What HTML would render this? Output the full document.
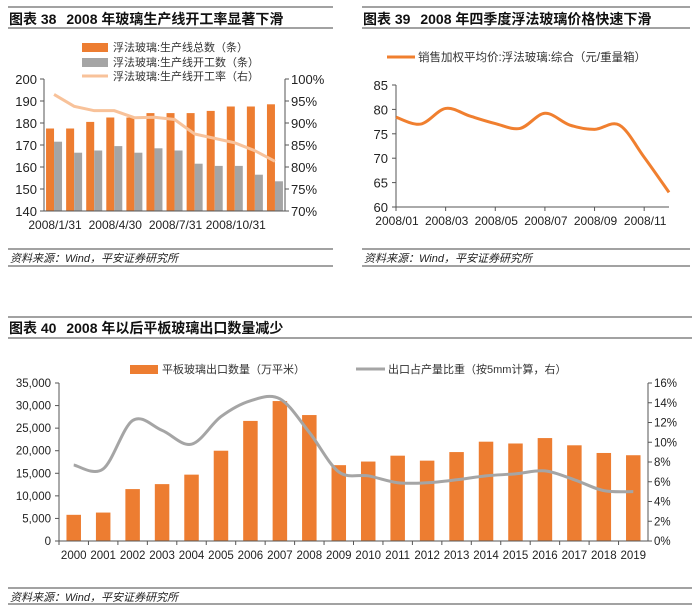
<!DOCTYPE html>
<html><head><meta charset="utf-8">
<style>
body{margin:0;background:#fff;width:700px;height:611px;overflow:hidden;font-family:"Liberation Sans","Noto Sans CJK SC",sans-serif;}
svg text{font-family:"Liberation Sans","Noto Sans CJK SC",sans-serif;}
</style></head>
<body>
<svg id="s" width="700" height="611" viewBox="0 0 700 611" xmlns="http://www.w3.org/2000/svg">
<!-- chart 38 header -->
<g>
<line x1="8" y1="7" x2="333" y2="7" stroke="#444" stroke-width="1"/>
<text x="9" y="24" font-size="14" font-weight="bold" fill="#111">图表 38 <tspan dx="6">2008 年玻璃生产线开工率显著下滑</tspan></text>
<line x1="8" y1="28" x2="333" y2="28" stroke="#444" stroke-width="1"/>
<line x1="8" y1="249" x2="333" y2="249" stroke="#444" stroke-width="1"/>
<text x="10" y="262" font-size="11" font-style="italic" fill="#222">资料来源：Wind，平安证券研究所</text>
<line x1="8" y1="266" x2="333" y2="266" stroke="#444" stroke-width="1"/>
</g>
<g>
<rect x="82" y="43" width="26" height="9" fill="#ed7d31"/>
<text x="113" y="51" font-size="11" fill="#333">浮法玻璃:生产线总数（条）</text>
<rect x="82" y="58" width="26" height="9" fill="#a5a5a5"/>
<text x="113" y="66" font-size="11" fill="#333">浮法玻璃:生产线开工数（条）</text>
<line x1="82" y1="76" x2="108" y2="76" stroke="#f8c29a" stroke-width="3"/>
<text x="113" y="80" font-size="11" fill="#333">浮法玻璃:生产线开工率（右）</text>
</g>
<g id="c38"></g>

<!-- chart 39 header -->
<g>
<line x1="362" y1="7" x2="690" y2="7" stroke="#444" stroke-width="1"/>
<text x="363" y="24" font-size="14" font-weight="bold" fill="#111">图表 39 <tspan dx="6">2008 年四季度浮法玻璃价格快速下滑</tspan></text>
<line x1="362" y1="28" x2="690" y2="28" stroke="#444" stroke-width="1"/>
<line x1="362" y1="249" x2="690" y2="249" stroke="#444" stroke-width="1"/>
<text x="364" y="262" font-size="11" font-style="italic" fill="#222">资料来源：Wind，平安证券研究所</text>
<line x1="362" y1="266" x2="690" y2="266" stroke="#444" stroke-width="1"/>
</g>
<g>
<line x1="387" y1="57" x2="415" y2="57" stroke="#f07f2f" stroke-width="3"/>
<text x="418" y="61" font-size="11.5" fill="#333">销售加权平均价:浮法玻璃:综合（元/重量箱）</text>
</g>
<g id="c39"></g>

<!-- chart 40 header -->
<g>
<line x1="8" y1="317" x2="692" y2="317" stroke="#444" stroke-width="1"/>
<text x="9" y="333" font-size="14" font-weight="bold" fill="#111">图表 40 <tspan dx="6">2008 年以后平板玻璃出口数量减少</tspan></text>
<line x1="8" y1="338" x2="692" y2="338" stroke="#444" stroke-width="1"/>
<line x1="8" y1="588" x2="692" y2="588" stroke="#444" stroke-width="1"/>
<text x="10" y="601" font-size="11" font-style="italic" fill="#222">资料来源：Wind，平安证券研究所</text>
<line x1="8" y1="604" x2="692" y2="604" stroke="#444" stroke-width="1"/>
</g>
<g>
<rect x="130" y="365" width="28" height="9" fill="#ed7d31"/>
<text x="162" y="373" font-size="11" fill="#333">平板玻璃出口数量（万平米）</text>
<line x1="356" y1="369" x2="385" y2="369" stroke="#a5a5a5" stroke-width="3"/>
<text x="388" y="373" font-size="11" fill="#333">出口占产量比重（按5mm计算，右）</text>
</g>
<g id="c40"></g>
</svg>
<script>
// chart 38 data
const c38Cats=["2008/1/31","2008/2/29","2008/3/31","2008/4/30","2008/5/31","2008/6/30","2008/7/31","2008/8/31","2008/9/30","2008/10/31","2008/11/30","2008/12/31"];
const c38Total=[177.5,177.5,180.5,182.5,182.5,184.5,184.5,184.5,185.5,187.5,187.5,188.5];
const c38Running=[171.5,166.5,167.5,169.5,166.5,168.5,167.5,161.5,160.5,160.5,156.5,153.5];
const c38Rate=[96.5,93.8,92.8,92.8,91.2,91.3,90.8,87.5,86.5,85.5,83.7,81.3];
const c38LeftTicks=[140,150,160,170,180,190,200];
const c38RightTicks=[70,75,80,85,90,95,100];
// chart 39 data
const c39Cats=["2008/01","2008/02","2008/03","2008/04","2008/05","2008/06","2008/07","2008/08","2008/09","2008/10","2008/11","2008/12"];
const c39Price=[78.4,77.0,80.2,78.6,77.1,76.1,79.2,76.8,75.9,76.8,70.2,63.0];
const c39Ticks=[60,65,70,75,80,85];
// chart 40 data
const c40Years=["2000","2001","2002","2003","2004","2005","2006","2007","2008","2009","2010","2011","2012","2013","2014","2015","2016","2017","2018","2019"];
const c40Export=[5800,6300,11500,12600,14700,20000,26600,31000,27900,16800,17600,18900,17800,19700,22000,21600,22800,21200,19500,19000];
const c40Share=[7.7,7.3,12.2,11.2,9.8,12.6,14.2,14.4,11.0,7.0,6.6,5.9,5.9,6.2,6.6,6.8,7.1,6.2,5.1,5.0];
const c40LeftTicks=[0,5000,10000,15000,20000,25000,30000,35000];
const c40RightTicks=[0,2,4,6,8,10,12,14,16];

const NS="http://www.w3.org/2000/svg";
function mk(p,tag,at){const e=document.createElementNS(NS,tag);for(const k in at)e.setAttribute(k,at[k]);p.appendChild(e);return e;}
function smooth(pts){let d="M"+pts[0][0]+","+pts[0][1];for(let i=0;i<pts.length-1;i++){const p0=pts[Math.max(0,i-1)],p1=pts[i],p2=pts[i+1],p3=pts[Math.min(pts.length-1,i+2)];const t=6;d+=" C"+(p1[0]+(p2[0]-p0[0])/t)+","+(p1[1]+(p2[1]-p0[1])/t)+" "+(p2[0]-(p3[0]-p1[0])/t)+","+(p2[1]-(p3[1]-p1[1])/t)+" "+p2[0]+","+p2[1];}return d;}
function fmt(n){return n.toString().replace(/\B(?=(\d{3})+(?!\d))/g,",");}

// ---- chart 38
(function(){
const g=document.getElementById('c38');
const L=44,R=285,T=79,B=211;
const bw=(R-L)/c38Cats.length;
const yl=v=>B-(v-140)/(200-140)*(B-T);
const yr=v=>B-(v-70)/(100-70)*(B-T);
const xc=i=>L+bw*(i+0.5);
c38LeftTicks.forEach(t=>{const e=mk(g,'text',{x:37,y:yl(t)+5,'font-size':13,'text-anchor':'end',fill:'#222'});e.textContent=t;


mk(g,'line',{x1:L-4,x2:L,y1:yl(t),y2:yl(t),stroke:'#555'});});
c38RightTicks.forEach(t=>{const e=mk(g,'text',{x:291,y:yr(t)+5,'font-size':13,fill:'#222'});e.textContent=t+'%';


mk(g,'line',{x1:R,x2:R+4,y1:yr(t),y2:yr(t),stroke:'#555'});});
c38Cats.forEach((c,i)=>{
const b1=mk(g,'rect',{x:xc(i)-8,y:yl(c38Total[i]),width:8,height:B-yl(c38Total[i]),fill:'#ed7d31'});


const b2=mk(g,'rect',{x:xc(i),y:yl(c38Running[i]),width:8,height:B-yl(c38Running[i]),fill:'#a5a5a5'});


if(i%3===0){const e=mk(g,'text',{x:xc(i)+1,y:229,'font-size':12,'text-anchor':'middle',fill:'#222'});e.textContent=c;

}
});
const ln=mk(g,'polyline',{points:c38Rate.map((v,i)=>xc(i)+','+yr(v)).join(' '),fill:'none',stroke:'#f8c29a','stroke-width':3});


mk(g,'line',{x1:L,x2:L,y1:T,y2:B,stroke:'#555'});
mk(g,'line',{x1:R,x2:R,y1:T,y2:B,stroke:'#555'});
mk(g,'line',{x1:L,x2:R,y1:B,y2:B,stroke:'#555'});
})();

// ---- chart 39
(function(){
const g=document.getElementById('c39');
const L=396,R=669,T=85,B=207;
const step=(R-L)/(c39Cats.length-1);
const x=i=>L+step*i;
const y=v=>B-(v-60)/(85-60)*(B-T);
c39Ticks.forEach(t=>{const e=mk(g,'text',{x:388,y:y(t)+5,'font-size':13,'text-anchor':'end',fill:'#222'});e.textContent=t;


mk(g,'line',{x1:L-4,x2:L,y1:y(t),y2:y(t),stroke:'#555'});});
c39Cats.forEach((c,i)=>{if(i%2===0){mk(g,'line',{x1:x(i),x2:x(i),y1:B,y2:B+4,stroke:'#555'});
const e=mk(g,'text',{x:x(i)+1,y:225,'font-size':12,'text-anchor':'middle',fill:'#222'});e.textContent=c;

}});
mk(g,'line',{x1:L,x2:L,y1:T,y2:B,stroke:'#555'});
mk(g,'line',{x1:L,x2:R,y1:B,y2:B,stroke:'#555'});
const p=mk(g,'path',{d:smooth(c39Price.map((v,i)=>[x(i),y(v)])),fill:'none',stroke:'#f07f2f','stroke-width':3});


})();

// ---- chart 40
(function(){
const g=document.getElementById('c40');
const L=59,R=648,T=383,B=541;
const bw=(R-L)/c40Years.length;
const xc=i=>L+bw*(i+0.5);
const yl=v=>B-v/35000*(B-T);
const yr=v=>B-v/16*(B-T);
c40LeftTicks.forEach(t=>{const e=mk(g,'text',{x:51,y:yl(t)+4,'font-size':11.5,'text-anchor':'end',fill:'#222'});e.textContent=fmt(t);


mk(g,'line',{x1:L-4,x2:L,y1:yl(t),y2:yl(t),stroke:'#555'});});
c40RightTicks.forEach(t=>{const e=mk(g,'text',{x:654,y:yr(t)+4,'font-size':11.5,fill:'#222'});e.textContent=t+'%';


mk(g,'line',{x1:R,x2:R+4,y1:yr(t),y2:yr(t),stroke:'#555'});});
c40Years.forEach((c,i)=>{
const b=mk(g,'rect',{x:xc(i)-7.25,y:yl(c40Export[i]),width:14.5,height:B-yl(c40Export[i]),fill:'#ed7d31'});


mk(g,'line',{x1:L+bw*i,x2:L+bw*i,y1:B,y2:B+4,stroke:'#555'});
const e=mk(g,'text',{x:xc(i),y:559,'font-size':11.5,'text-anchor':'middle',fill:'#222'});e.textContent=c;


});
mk(g,'line',{x1:L,x2:L,y1:T,y2:B,stroke:'#555'});
mk(g,'line',{x1:R,x2:R,y1:T,y2:B,stroke:'#555'});
mk(g,'line',{x1:L,x2:R,y1:B,y2:B,stroke:'#555'});
const p=mk(g,'path',{d:smooth(c40Share.map((v,i)=>[xc(i),yr(v)])),fill:'none',stroke:'#a5a5a5','stroke-width':3});


})();
</script>
</body></html>
